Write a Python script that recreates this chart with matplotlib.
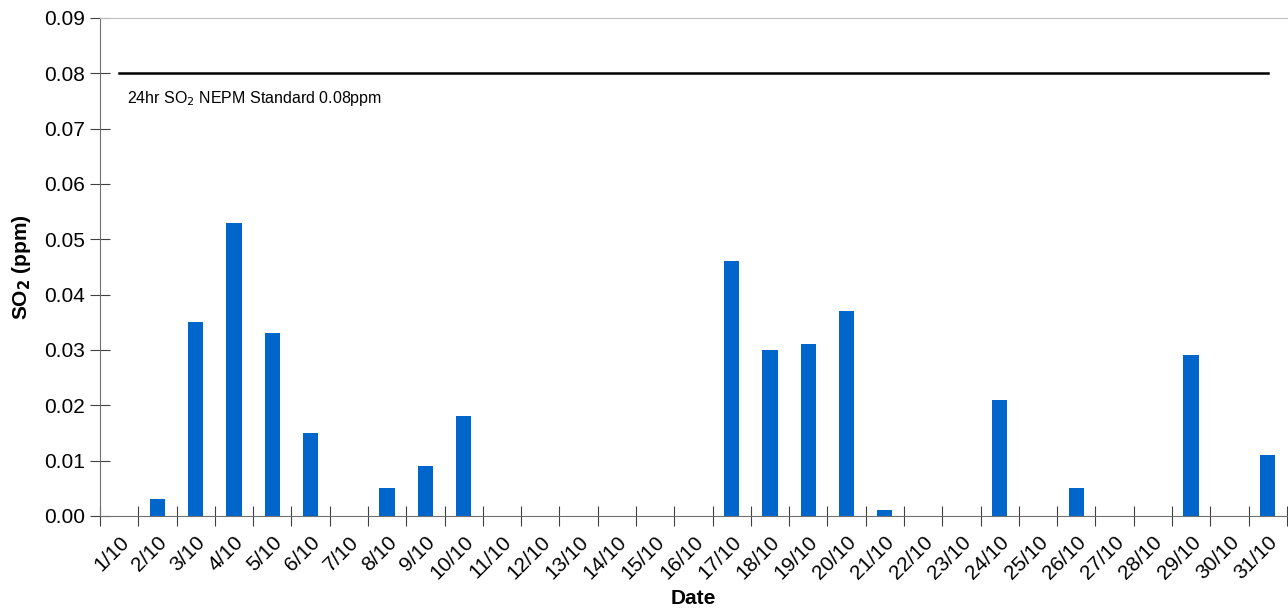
import matplotlib
matplotlib.use("Agg")
import matplotlib.pyplot as plt
import numpy as np

plt.rcParams['font.family'] = ['Liberation Sans', 'DejaVu Sans']

# Daily SO2 averages, October
dates = [f"{d}/10" for d in range(1, 32)]
so2 = [0.0, 0.003, 0.035, 0.053, 0.033, 0.015, 0.0, 0.005, 0.009, 0.018,
       0.0, 0.0, 0.0, 0.0, 0.0, 0.0, 0.046, 0.030, 0.031, 0.037,
       0.001, 0.0, 0.0, 0.021, 0.0, 0.005, 0.0, 0.0, 0.029, 0.0, 0.011]
standard = [0.08] * len(dates)
yticks = [0.00, 0.01, 0.02, 0.03, 0.04, 0.05, 0.06, 0.07, 0.08, 0.09]

fig = plt.figure(figsize=(12.88, 6.12), dpi=100)
ax = fig.add_axes([0.0776, 0.157, 0.9215, 0.8136])

x = np.arange(len(dates))
ax.bar(x, so2, width=0.4, color='#0066CC', zorder=2)
ax.plot(x, standard, color='black', linewidth=1.8, zorder=3)
ax.text(0.2, 0.0772, "24hr SO$_2$ NEPM Standard 0.08ppm", fontsize=11.5,
        ha='left', va='top')

ax.set_xlim(-0.5, len(dates) - 0.5)
ax.set_ylim(0, 0.09)
ax.set_yticks(yticks)
ax.set_yticklabels([f"{v:.2f}" for v in yticks], fontsize=15)

# ticks at category boundaries, labels at centres
ax.set_xticks(np.arange(-0.5, len(dates) - 0.5 + 0.01, 1.0))
ax.set_xticklabels([])
ax.set_xticks(x, minor=True)
ax.set_xticklabels(dates, minor=True, rotation=45, ha='right',
                   rotation_mode='anchor', fontsize=15)
ax.tick_params(axis='x', which='minor', length=0, pad=12)
ax.tick_params(axis='x', which='major', direction='inout', length=14,
               color='#404040')
ax.tick_params(axis='y', direction='inout', length=14, color='#404040')

ax.set_xlabel("Date", fontsize=15, fontweight='bold', labelpad=4)
ax.set_ylabel("SO$_\\mathbf{2}$ (ppm)", fontsize=15, fontweight='bold',
              labelpad=8)

ax.spines['right'].set_visible(False)
ax.spines['top'].set_color('#c0c0c0')
ax.spines['left'].set_color('#707070')
ax.spines['bottom'].set_color('#707070')

fig.savefig("out.png", dpi=100)
